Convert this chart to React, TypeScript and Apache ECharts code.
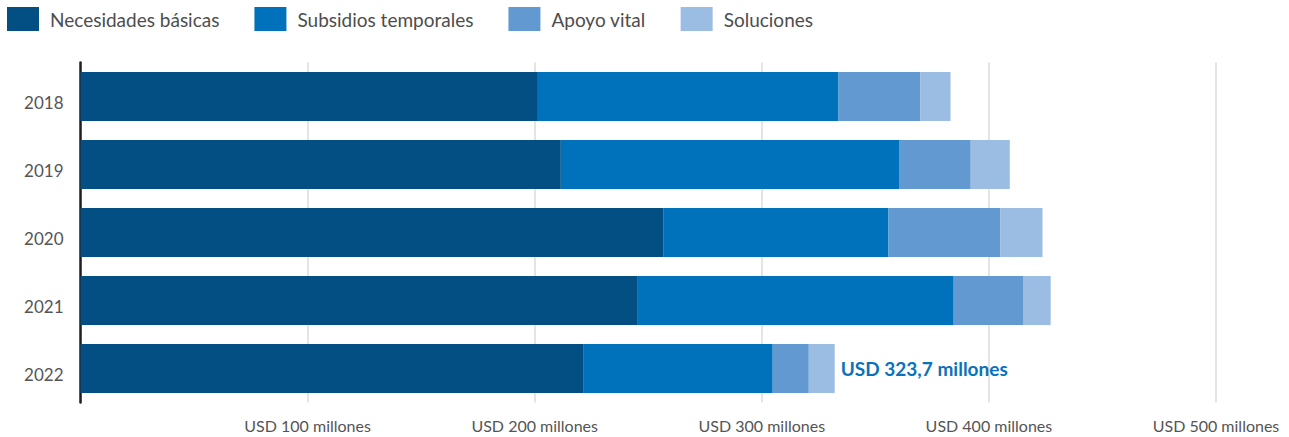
import React, { useEffect, useRef } from "react";
import * as echarts from "echarts";

const years = ["2018", "2019", "2020", "2021", "2022"];
const seriesNames = ["Necesidades básicas", "Subsidios temporales", "Apoyo vital", "Soluciones"];
const necesidades = [201.4, 211.5, 256.8, 245.4, 221.6];
const subsidios = [132.4, 149.2, 99.0, 139.1, 83.2];
const apoyo = [36.1, 31.3, 49.3, 30.8, 15.9];
const soluciones = [13.2, 17.2, 18.5, 11.9, 11.4];
const colors = ["#034f84", "#0072bb", "#6199d0", "#9bbde3"];
const xMin = 0;
const xMax = 500;
const xInterval = 100;
const totalLabel = "USD 323,7 millones";
const totalLabelIndex = 4;

const FONT = "Lato, 'Noto Sans', sans-serif";

export default function App() {
  const ref = useRef<HTMLDivElement>(null);
  useEffect(() => {
    document.body.style.margin = "0";
    if (!ref.current) return;
    const chart = echarts.init(ref.current, undefined, { renderer: "svg" });
    const values = [necesidades, subsidios, apoyo, soluciones];
    const series = seriesNames.map((name, si) => ({
      name,
      type: "bar",
      stack: "total",
      barCategoryGap: "28%",
      itemStyle: { color: colors[si] },
      emphasis: { disabled: true },
      data: values[si].map((v, i) =>
        si === seriesNames.length - 1 && i === totalLabelIndex
          ? {
              value: v,
              label: {
                show: true,
                position: "right",
                distance: 6,
                formatter: totalLabel,
                fontWeight: "bold",
                fontSize: 19,
                color: "#0a72ba",
                fontFamily: FONT,
              },
            }
          : v
      ),
    }));
    chart.setOption({
      animation: false,
      textStyle: { fontFamily: FONT },
      legend: {
        left: 7,
        top: 7,
        padding: 0,
        itemWidth: 32,
        itemHeight: 24,
        itemGap: 35,
        icon: "rect",
        selectedMode: false,
        data: seriesNames,
        textStyle: { fontSize: 19, color: "#4d4d4d", padding: [0, 0, 0, 6], fontFamily: FONT },
      },
      grid: { left: 80.5, right: 73, top: 62.5, bottom: 34.5, containLabel: false },
      xAxis: {
        type: "value",
        min: xMin,
        max: xMax,
        interval: xInterval,
        axisLine: { show: false },
        axisTick: { show: false },
        splitLine: { show: true, lineStyle: { color: "#e4e4e4", width: 2 } },
        axisLabel: {
          fontSize: 16,
          color: "#555",
          margin: 15,
          formatter: (v: number) => (v === 0 ? "" : `USD ${v} millones`),
        },
      },
      yAxis: {
        type: "category",
        inverse: true,
        data: years,
        axisLine: { show: true, lineStyle: { color: "#231f20", width: 2.5 } },
        axisTick: { show: false },
        axisLabel: { fontSize: 17, color: "#555", margin: 17, verticalAlign: "top", lineHeight: 11 },
      },
      series,
    });
    return () => chart.dispose();
  }, []);
  return <div ref={ref} style={{ width: 1289, height: 437 }} />;
}
